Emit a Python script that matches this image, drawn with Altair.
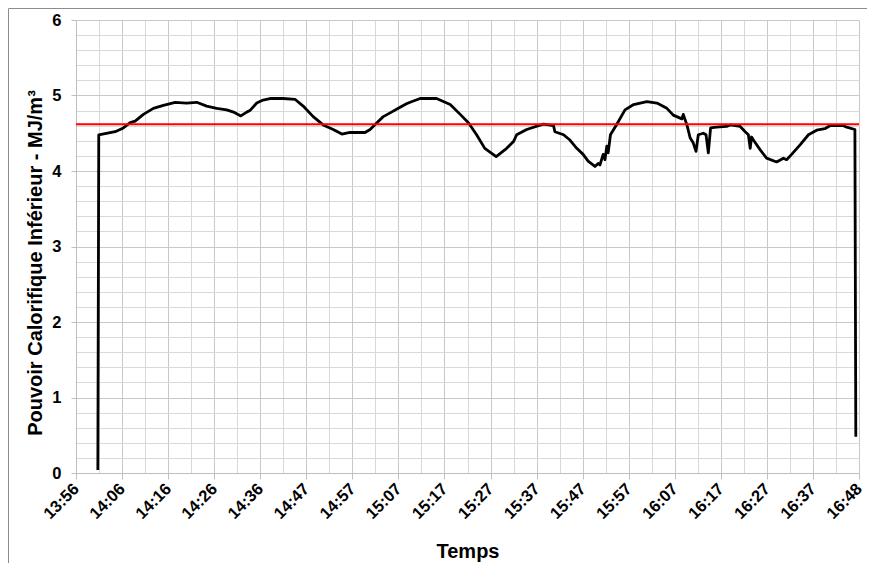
import altair as alt
import pandas as pd

# Minutes elapsed since 13:56 and lower heating value (MJ/m3)
minutes = [4.8, 5.0, 8.6, 10.4, 11.9, 13.0, 14.8, 17.0, 19.2, 21.8, 24.3, 26.5, 28.7, 30.9,
           33.1, 34.6, 36.2, 37.5, 38.2, 39.7, 41.1, 42.6, 45.5, 48.1, 49.9, 52.1, 54.3,
           56.5, 58.4, 60.2, 63.5, 64.6, 66.1, 67.5, 69.0, 70.8, 72.6, 73.4, 75.6, 79.2,
           82.2, 84.4, 86.2, 88.0, 89.8, 92.3, 94.6, 96.1, 96.8, 99.0, 101.6, 102.7, 104.9,
           105.2, 107.1, 108.5, 110.0, 111.4, 112.5, 114.0, 114.7, 115.1, 115.8, 116.2,
           116.6, 116.9, 117.4, 118.8, 120.6, 122.5, 125.4, 127.6, 129.8, 131.2, 133.1,
           133.4, 134.2, 134.9, 135.6, 136.2, 136.7, 137.8, 138.4, 138.9, 139.4, 140.7,
           142.9, 143.7, 145.9, 147.0, 147.7, 148.1, 148.4, 148.8, 150.3, 151.7, 153.9,
           155.4, 156.1, 157.2, 159.1, 160.9, 162.7, 164.5, 165.6, 168.6, 169.3, 171.1, 171.3]
pci = [0.04, 4.48, 4.52, 4.57, 4.64, 4.66, 4.75, 4.83, 4.87, 4.91, 4.90, 4.91, 4.86, 4.83,
       4.81, 4.78, 4.73, 4.78, 4.80, 4.90, 4.94, 4.96, 4.96, 4.95, 4.86, 4.72, 4.61,
       4.55, 4.49, 4.51, 4.51, 4.55, 4.64, 4.72, 4.77, 4.83, 4.89, 4.91, 4.96, 4.96,
       4.88, 4.75, 4.64, 4.48, 4.30, 4.19, 4.30, 4.39, 4.48, 4.55, 4.60, 4.62, 4.60,
       4.52, 4.48, 4.41, 4.30, 4.22, 4.13, 4.06, 4.10, 4.08, 4.22, 4.15,
       4.33, 4.24, 4.48, 4.62, 4.81, 4.88, 4.92, 4.90, 4.83, 4.74, 4.69,
       4.75, 4.61, 4.44, 4.37, 4.26, 4.48, 4.50, 4.48, 4.24, 4.57, 4.58,
       4.59, 4.61, 4.59, 4.52, 4.48, 4.30, 4.45, 4.41, 4.28, 4.17, 4.12,
       4.17, 4.15, 4.22, 4.35, 4.48, 4.54, 4.56, 4.60, 4.60, 4.58, 4.55, 0.48]

reference_level = [4.62]

tick_labels = ["13:56", "14:06", "14:16", "14:26", "14:36", "14:47", "14:57", "15:07",
               "15:17", "15:27", "15:37", "15:47", "15:57", "16:07", "16:17", "16:27",
               "16:37", "16:48"]

TOTAL = 172.0
N = len(tick_labels) - 1
x_values = [i * TOTAL / (2 * N) for i in range(2 * N + 1)]
y_values = [round(i * 0.2, 1) for i in range(31)]

df = pd.DataFrame({"t": minutes, "v": pci})
ref_df = pd.DataFrame({"ref": reference_level})

FONT = "Liberation Sans"
label_array = "[" + ",".join("'%s'" % s for s in tick_labels) + "]"
x_minor_test = "round(datum.value*%d/%g) %% 2 == 1" % (2 * N, TOTAL)
x_label_expr = "%s ? '' : %s[round(datum.value*%d/%g)]" % (x_minor_test, label_array, N, TOTAL)
y_minor_test = "abs(datum.value - round(datum.value)) > 0.01"

x_axis = alt.Axis(
    values=x_values,
    tickCount=500,
    labelExpr=x_label_expr,
    labelAngle=-45,
    labelAlign="right",
    labelBaseline="middle",
    labelPadding=7,
    labelFont=FONT, labelFontSize=16.5, labelFontWeight="bold", labelColor="#000000",
    labelOverlap=False, labelFlush=False, labelBound=False,
    tickSize=6,
    tickColor="#bfbfbf",
    tickOpacity={"condition": {"test": x_minor_test, "value": 0}, "value": 1},
    grid=True,
    gridColor={"condition": {"test": x_minor_test, "value": "#d9d9d9"}, "value": "#c8c8c8"},
    gridWidth=1,
    domainColor="#bfbfbf",
    title="Temps",
    titleFont=FONT, titleFontSize=20, titleFontWeight="bold", titleColor="#000000",
    titleX=391.5, titleY=84, titleBaseline="alphabetic", titleAlign="center",
)

y_axis = alt.Axis(
    values=y_values,
    tickCount=500,
    labelExpr="abs(datum.value - round(datum.value)) < 0.01 ? '' + round(datum.value) : ''",
    labelPadding=10,
    labelFont=FONT, labelFontSize=16.5, labelFontWeight="bold", labelColor="#000000",
    labelBaseline="middle",
    labelOverlap=False, labelFlush=False,
    tickSize=5,
    tickColor="#bfbfbf",
    tickOpacity={"condition": {"test": y_minor_test, "value": 0}, "value": 1},
    grid=True,
    gridColor={"condition": {"test": y_minor_test, "value": "#d9d9d9"}, "value": "#c8c8c8"},
    gridWidth=1,
    domainColor="#bfbfbf",
    title="Pouvoir Calorifique Inférieur - MJ/m³",
    titleFont=FONT, titleFontSize=20, titleFontWeight="bold", titleColor="#000000",
    titleAngle=-90, titleX=-41, titleY=242.5, titleAlign="center", titleBaseline="middle",
)

line = alt.Chart(df).mark_line(color="#000000", strokeWidth=2.8, strokeJoin="round").encode(
    x=alt.X("t:Q", scale=alt.Scale(domain=[0, TOTAL], nice=False, zero=False), axis=x_axis),
    y=alt.Y("v:Q", scale=alt.Scale(domain=[0, 6], nice=False), axis=y_axis),
    order="t:Q",
)

ref_line = alt.Chart(ref_df).mark_rule(color="#ff0000", strokeWidth=2).encode(
    y="ref:Q"
)

frame_left = alt.Chart(ref_df).mark_rule(color="#8c8c8c", strokeWidth=1).encode(
    x=alt.value(-67.5), y=alt.value(-11.5), y2=alt.value(560)
)
frame_top = alt.Chart(ref_df).mark_rule(color="#8c8c8c", strokeWidth=1).encode(
    x=alt.value(-67.5), x2=alt.value(800), y=alt.value(-11.5)
)

chart = alt.layer(line, ref_line, frame_left, frame_top).properties(
    width=783,
    height=453,
    autosize=alt.AutoSizeParams(type="none"),
    padding={"left": 68, "top": 12, "right": 8, "bottom": 90},
    background="#ffffff",
).configure_view(stroke=None)

chart.save("out.html", embed_options={"renderer": "svg", "actions": False})
